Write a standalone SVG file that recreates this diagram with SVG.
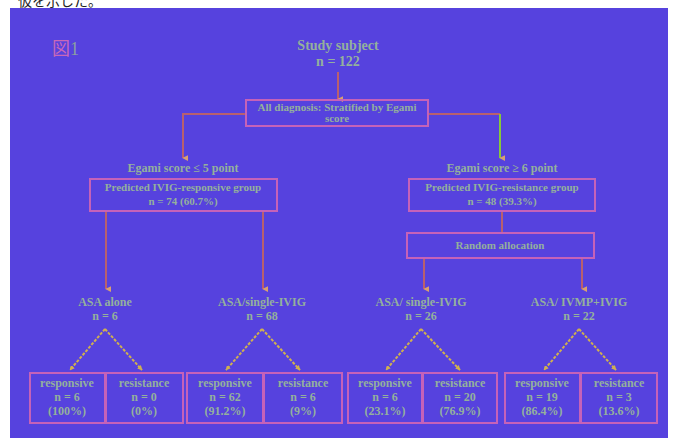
<svg xmlns="http://www.w3.org/2000/svg" width="675" height="438" viewBox="0 0 675 438">
  <defs>
    <marker id="arr" viewBox="0 0 8 8" refX="4" refY="7" markerWidth="6" markerHeight="6" orient="auto-start-reverse" markerUnits="userSpaceOnUse">
      <path d="M0,0 L4,8 L8,0 Z" fill="#d8a070"/>
    </marker>
    <marker id="arrs" viewBox="0 0 8 8" refX="7" refY="4" markerWidth="5" markerHeight="5" orient="auto" markerUnits="userSpaceOnUse">
      <path d="M0,0 L8,4 L0,8 Z" fill="#d0b050"/>
    </marker>
  </defs>
  <style>
    .bg { fill: #5642de; }
    .box { fill: none; stroke: #c562b8; stroke-width: 2; }
    .t { font-family: "Liberation Serif", "Noto Sans CJK JP", serif; font-weight: bold; fill: #94b09c; text-anchor: middle; }
    .s { font-size: 11px; }
    .m { font-size: 12px; }
    .l { font-size: 14px; }
    .link { fill: none; stroke: #b8606e; stroke-width: 2; }
    .green { fill: none; stroke: #86c83c; stroke-width: 2; }
    .split { fill: none; stroke: #d0b050; stroke-width: 2; stroke-dasharray: 3 1.5; }
  </style>

  <!-- page strip above the figure -->
  <rect x="0" y="0" width="675" height="438" fill="#ffffff"/>
  <text x="18" y="6" font-family="Noto Sans CJK JP, sans-serif" font-size="14" fill="#222">仮を示した。</text>
  <rect class="bg" x="10" y="8" width="658" height="430"/>

  <!-- figure caption -->
  <g id="caption">
    <text x="52" y="55" font-family="Liberation Serif, Noto Sans CJK JP, serif" font-size="18" fill="#c868b8">図<tspan fill="#8aa0a0">1</tspan></text>
  </g>

  <!-- connectors -->
  <g id="connectors">
    <line class="link" x1="338" y1="72" x2="338" y2="99" marker-end="url(#arr)"/>
    <polyline class="link" points="246,114 183,114 183,158" marker-end="url(#arr)"/>
    <polyline class="link" points="428,114 500,114"/>
    <line class="green" x1="500" y1="114" x2="500" y2="158" marker-end="url(#arr)"/>
    <line class="link" x1="106" y1="212" x2="106" y2="289" marker-end="url(#arr)"/>
    <line class="link" x1="263" y1="212" x2="263" y2="289" marker-end="url(#arr)"/>
    <line class="link" x1="502" y1="211" x2="502" y2="233"/>
    <line class="link" x1="424" y1="259" x2="424" y2="289" marker-end="url(#arr)"/>
    <line class="link" x1="582" y1="259" x2="582" y2="289" marker-end="url(#arr)"/>

    <!-- responder / resistance splits -->
    <line class="split" x1="105" y1="329" x2="70" y2="370" marker-end="url(#arrs)"/>
    <line class="split" x1="105" y1="329" x2="142" y2="370" marker-end="url(#arrs)"/>
    <line class="split" x1="262" y1="329" x2="226" y2="370" marker-end="url(#arrs)"/>
    <line class="split" x1="262" y1="329" x2="300" y2="370" marker-end="url(#arrs)"/>
    <line class="split" x1="421" y1="329" x2="386" y2="370" marker-end="url(#arrs)"/>
    <line class="split" x1="421" y1="329" x2="460" y2="370" marker-end="url(#arrs)"/>
    <line class="split" x1="579" y1="329" x2="544" y2="370" marker-end="url(#arrs)"/>
    <line class="split" x1="579" y1="329" x2="616" y2="370" marker-end="url(#arrs)"/>
  </g>

  <!-- root -->
  <g id="study">
    <text class="t l" x="338" y="50">Study subject</text>
    <text class="t l" x="338" y="66">n = 122</text>
  </g>

  <g id="stratify">
    <rect class="box" x="246" y="100" width="182" height="26"/>
    <text class="t s" x="337" y="111">All diagnosis: Stratified by Egami</text>
    <text class="t s" x="337" y="122">score</text>
  </g>

  <g id="low-score">
    <text class="t m" x="183" y="172">Egami score ≤ 5 point</text>
    <rect class="box" x="90" y="179" width="187" height="32"/>
    <text class="t s" x="183" y="191">Predicted IVIG-responsive group</text>
    <text class="t s" x="183" y="205">n = 74  (60.7%)</text>
  </g>

  <g id="high-score">
    <text class="t m" x="502" y="172">Egami score ≥ 6 point</text>
    <rect class="box" x="409" y="179" width="186" height="32"/>
    <text class="t s" x="502" y="191">Predicted IVIG-resistance group</text>
    <text class="t s" x="502" y="205">n = 48  (39.3%)</text>
  </g>

  <g id="random">
    <rect class="box" x="407" y="233" width="187" height="25"/>
    <text class="t s" x="500" y="249">Random allocation</text>
  </g>

  <g id="asa-alone">
    <text class="t m" x="105" y="306">ASA alone</text>
    <text class="t m" x="105" y="320">n = 6</text>
  </g>
  <g id="asa-ivig-low">
    <text class="t m" x="262" y="306">ASA/single-IVIG</text>
    <text class="t m" x="262" y="320">n = 68</text>
  </g>
  <g id="asa-ivig-high">
    <text class="t m" x="421" y="306">ASA/ single-IVIG</text>
    <text class="t m" x="421" y="320">n = 26</text>
  </g>
  <g id="asa-ivmp">
    <text class="t m" x="579" y="306">ASA/ IVMP+IVIG</text>
    <text class="t m" x="579" y="320">n = 22</text>
  </g>

  <!-- outcome boxes -->
  <g id="out-1">
    <rect class="box" x="30" y="373" width="75" height="50"/>
    <text class="t m" x="67" y="387">responsive</text>
    <text class="t m" x="67" y="401">n = 6</text>
    <text class="t m" x="67" y="415">(100%)</text>
  </g>
  <g id="out-2">
    <rect class="box" x="106" y="373" width="77" height="50"/>
    <text class="t m" x="144" y="387">resistance</text>
    <text class="t m" x="144" y="401">n = 0</text>
    <text class="t m" x="144" y="415">(0%)</text>
  </g>
  <g id="out-3">
    <rect class="box" x="187" y="373" width="76" height="50"/>
    <text class="t m" x="225" y="387">responsive</text>
    <text class="t m" x="225" y="401">n = 62</text>
    <text class="t m" x="225" y="415">(91.2%)</text>
  </g>
  <g id="out-4">
    <rect class="box" x="264" y="373" width="78" height="50"/>
    <text class="t m" x="303" y="387">resistance</text>
    <text class="t m" x="303" y="401">n = 6</text>
    <text class="t m" x="303" y="415">(9%)</text>
  </g>
  <g id="out-5">
    <rect class="box" x="348" y="373" width="74" height="50"/>
    <text class="t m" x="385" y="387">responsive</text>
    <text class="t m" x="385" y="401">n = 6</text>
    <text class="t m" x="385" y="415">(23.1%)</text>
  </g>
  <g id="out-6">
    <rect class="box" x="423" y="373" width="74" height="50"/>
    <text class="t m" x="460" y="387">resistance</text>
    <text class="t m" x="460" y="401">n = 20</text>
    <text class="t m" x="460" y="415">(76.9%)</text>
  </g>
  <g id="out-7">
    <rect class="box" x="505" y="373" width="75" height="50"/>
    <text class="t m" x="542" y="387">responsive</text>
    <text class="t m" x="542" y="401">n = 19</text>
    <text class="t m" x="542" y="415">(86.4%)</text>
  </g>
  <g id="out-8">
    <rect class="box" x="581" y="373" width="76" height="50"/>
    <text class="t m" x="619" y="387">resistance</text>
    <text class="t m" x="619" y="401">n = 3</text>
    <text class="t m" x="619" y="415">(13.6%)</text>
  </g>
</svg>
